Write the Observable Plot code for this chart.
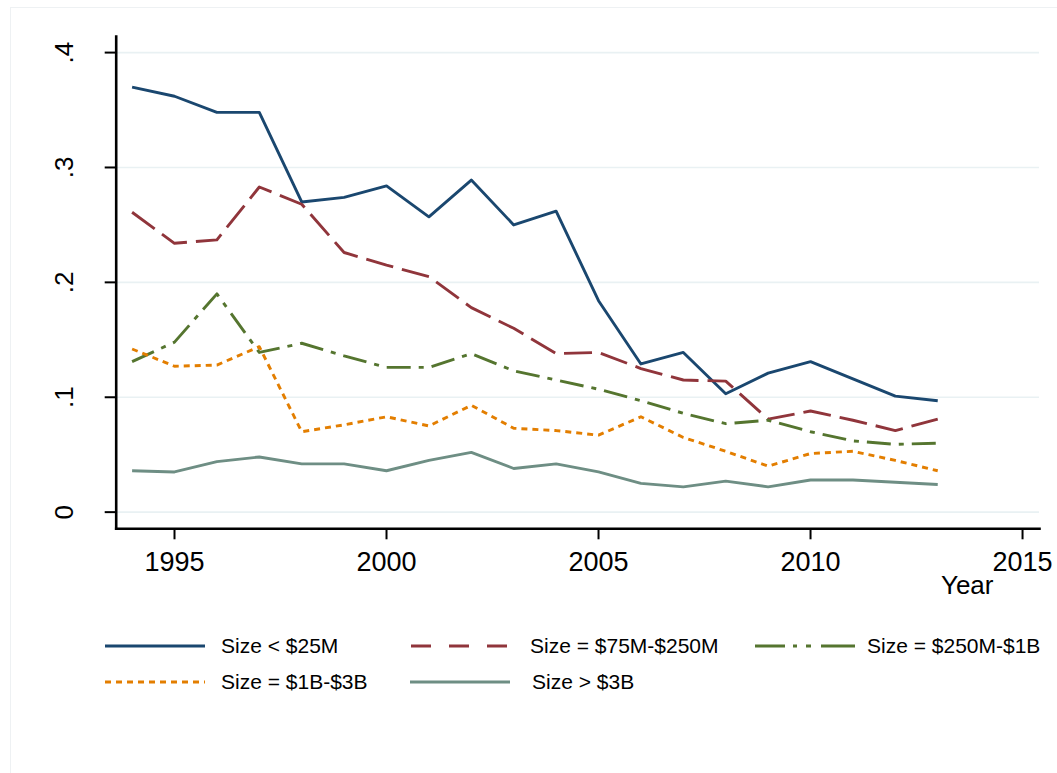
<!DOCTYPE html>
<html>
<head>
<meta charset="utf-8">
<script src="https://cdn.jsdelivr.net/npm/d3@7"></script>
<script src="https://cdn.jsdelivr.net/npm/@observablehq/plot@0.6"></script>
<style>
  html, body { margin: 0; padding: 0; background: #fff; }
  #wrap { position: relative; width: 1057px; height: 773px; overflow: hidden; font-family: "Liberation Sans", Arial, sans-serif; }
  #border { position: absolute; left: 10px; top: 7px; width: 1200px; height: 900px; border: 1px solid #eef1f3; box-sizing: border-box; }
  #chart { position: absolute; left: 0; top: 0; }
  .leg { position: absolute; display: flex; align-items: center; height: 24px; font-size: 21px; color: #000; white-space: nowrap; }
  .leg svg { display: block; }
</style>
</head>
<body>
<div id="wrap">
  <div id="border"></div>
  <div id="chart"></div>
</div>
<script>
// ---- Data ----
const years = [1994, 1995, 1996, 1997, 1998, 1999, 2000, 2001, 2002, 2003, 2004, 2005, 2006, 2007, 2008, 2009, 2010, 2011, 2012, 2013];

const sizeUnder25M = [0.370, 0.362, 0.348, 0.348, 0.270, 0.274, 0.284, 0.257, 0.289, 0.250, 0.262, 0.184, 0.129, 0.139, 0.103, 0.121, 0.131, 0.116, 0.101, 0.097];
const size75Mto250M = [0.261, 0.234, 0.237, 0.283, 0.268, 0.226, 0.215, 0.205, 0.178, 0.160, 0.138, 0.139, 0.125, 0.115, 0.114, 0.081, 0.088, 0.080, 0.071, 0.081];
const size250Mto1B = [0.131, 0.148, 0.190, 0.139, 0.147, 0.136, 0.126, 0.126, 0.138, 0.123, 0.115, 0.107, 0.097, 0.086, 0.077, 0.080, 0.070, 0.062, 0.059, 0.060];
const size1Bto3B = [0.142, 0.127, 0.128, 0.144, 0.070, 0.076, 0.083, 0.075, 0.093, 0.073, 0.071, 0.067, 0.083, 0.065, 0.053, 0.040, 0.051, 0.053, 0.045, 0.036];
const sizeOver3B = [0.036, 0.035, 0.044, 0.048, 0.042, 0.042, 0.036, 0.045, 0.052, 0.038, 0.042, 0.035, 0.025, 0.022, 0.027, 0.022, 0.028, 0.028, 0.026, 0.024];

const seriesNames = ["Size < $25M", "Size = $75M-$250M", "Size = $250M-$1B", "Size = $1B-$3B", "Size > $3B"];
const seriesValues = [sizeUnder25M, size75Mto250M, size250Mto1B, size1Bto3B, sizeOver3B];
const seriesColors = ["#1a476f", "#90353b", "#55752f", "#e37e00", "#6e8e84"];
const seriesDash = [null, "28,9", "24,8,5,8", "6,5", null];
const legendDash = [null, "20,18", "30,8,4,9,5,10,34", "6,5", null];

const xTicks = [1995, 2000, 2005, 2010, 2015];
const yTicks = [0, 0.1, 0.2, 0.3, 0.4];
const yTickLabels = ["0", ".1", ".2", ".3", ".4"];
const xTitle = "Year";

// ---- Chart ----
const FONT = "\"Liberation Sans\", Arial, sans-serif";
const rows = [];
seriesNames.forEach((name, s) => {
  years.forEach((yr, i) => rows.push({series: name, year: yr, value: seriesValues[s][i]}));
});

const lineMarks = seriesNames.map((name, s) =>
  Plot.line(rows.filter(d => d.series === name), {
    x: "year", y: "value",
    stroke: seriesColors[s],
    strokeWidth: 2.9,
    strokeDasharray: seriesDash[s],
    strokeLinecap: "butt",
    strokeLinejoin: "round"
  })
);

const chart = Plot.plot({
  width: 1057,
  height: 610,
  marginLeft: 115.7,
  marginRight: 18,
  marginTop: 36,
  marginBottom: 81.7,
  style: {fontFamily: FONT, background: "transparent", color: "#000", overflow: "visible"},
  x: {domain: [1993.625, 2015.4], label: null},
  y: {domain: [-0.0145, 0.414], label: null},
  marks: [
    Plot.gridY(yTicks, {stroke: "#e9f1f3", strokeOpacity: 1, strokeWidth: 1.6}),
    ...lineMarks,
    Plot.axisX({ticks: xTicks, tickFormat: d => String(d), tickSize: 11, tickPadding: 12, fontSize: 27, strokeWidth: 2, label: null}),
    Plot.axisY({ticks: yTicks, tickFormat: () => "", tickSize: 11, strokeWidth: 2, label: null}),
    Plot.text(yTicks, {
      frameAnchor: "left", y: d => d,
      text: (d, i) => yTickLabels[i],
      rotate: -90, textAnchor: "middle", lineAnchor: "bottom",
      dx: -43.5, fontSize: 26, fill: "#000"
    }),
    Plot.text([xTitle], {
      frameAnchor: "bottom-right", text: d => d,
      textAnchor: "end", lineAnchor: "bottom",
      dx: -46, dy: 65.5, fontSize: 26, fill: "#000"
    }),
    Plot.frame({anchor: "bottom", stroke: "#000", strokeWidth: 2.6}),
    Plot.frame({anchor: "left", stroke: "#000", strokeWidth: 2.6})
  ]
});
document.getElementById("chart").appendChild(chart);

// ---- Legend (below the plot area) ----
const legendPos = [
  {left: 105, top: 646},
  {left: 411, top: 646},
  {left: 755, top: 646},
  {left: 105, top: 682},
  {left: 410, top: 682}
];
const legendGap = [16, 19, 12, 16, 22];
const wrap = document.getElementById("wrap");
seriesNames.forEach((name, s) => {
  const item = document.createElement("div");
  item.className = "leg";
  item.style.left = legendPos[s].left + "px";
  item.style.top = (legendPos[s].top - 12) + "px";
  const svgNS = "http://www.w3.org/2000/svg";
  const svg = document.createElementNS(svgNS, "svg");
  svg.setAttribute("width", 100);
  svg.setAttribute("height", 10);
  const ln = document.createElementNS(svgNS, "line");
  ln.setAttribute("x1", 0); ln.setAttribute("x2", 100);
  ln.setAttribute("y1", 5); ln.setAttribute("y2", 5);
  ln.setAttribute("stroke", seriesColors[s]);
  ln.setAttribute("stroke-width", 3);
  if (legendDash[s]) ln.setAttribute("stroke-dasharray", legendDash[s]);
  svg.appendChild(ln);
  const txt = document.createElement("span");
  txt.textContent = name;
  txt.style.marginLeft = legendGap[s] + "px";
  item.appendChild(svg);
  item.appendChild(txt);
  wrap.appendChild(item);
});
</script>
</body>
</html>
